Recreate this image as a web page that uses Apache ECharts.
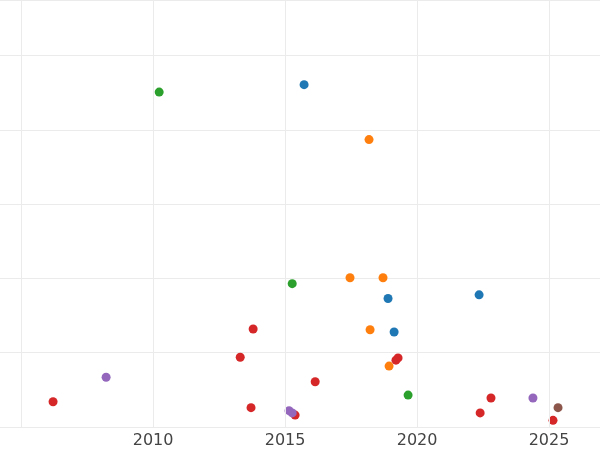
<!DOCTYPE html>
<html><head><meta charset="utf-8">
<script src="https://cdn.jsdelivr.net/npm/echarts@6/dist/echarts.min.js"></script>
<style>html,body{margin:0;padding:0;background:#fff}#c{width:600px;height:450px}</style>
</head><body><div id="c"></div>
<script>
const xTicks = [2010, 2015, 2020, 2025];
const xGrid = [2005, 2010, 2015, 2020, 2025];
const blue = [[2015.72,4.61],[2018.90,1.73],[2022.35,1.78],[2019.13,1.28]];
const orange = [[2018.18,3.87],[2017.46,2.01],[2018.71,2.01],[2018.22,1.31],[2018.94,0.82]];
const green = [[2010.23,4.51],[2015.27,1.93],[2019.66,0.43]];
const red = [[2006.21,0.34],[2013.79,1.32],[2013.30,0.94],[2013.71,0.26],[2015.38,0.16],[2016.14,0.61],[2019.28,0.93],[2019.20,0.90],[2022.80,0.39],[2022.39,0.19],[2025.15,0.09]];
const purple = [[2008.22,0.67],[2015.15,0.22],[2015.27,0.19],[2024.39,0.39]];
const brown = [[2025.34,0.26]];
const groups = [[blue,'#1f77b4'],[orange,'#ff7f0e'],[green,'#2ca02c'],[red,'#d62728'],[purple,'#9467bd'],[brown,'#8c564b']];
const chart = echarts.init(document.getElementById('c'));
const series = groups.map(([d,c])=>({type:'scatter',data:d,symbolSize:9,z:3,itemStyle:{color:c,opacity:1}}));
series.push({type:'scatter',data:[],z:1,markLine:{silent:true,symbol:'none',label:{show:false},
  lineStyle:{color:'#ebebeb',width:1,type:'solid'},data:xGrid.map(v=>({xAxis:v}))}});
chart.setOption({
  animation:false,
  grid:{left:0,right:0,top:0,bottom:23},
  xAxis:{type:'value',min:2004.2,max:2026.93,
    axisLine:{show:false},axisTick:{show:false},splitLine:{show:false},
    axisLabel:{color:'#444',fontSize:16,fontFamily:'DejaVu Sans',margin:6,customValues:xTicks,
      formatter:v=>String(v)}},
  yAxis:{type:'value',min:0,max:5.75,interval:1,
    axisLine:{show:false},axisTick:{show:false},axisLabel:{show:false},
    splitLine:{lineStyle:{color:'#ebebeb',width:1}}},
  series
});
</script></body></html>
